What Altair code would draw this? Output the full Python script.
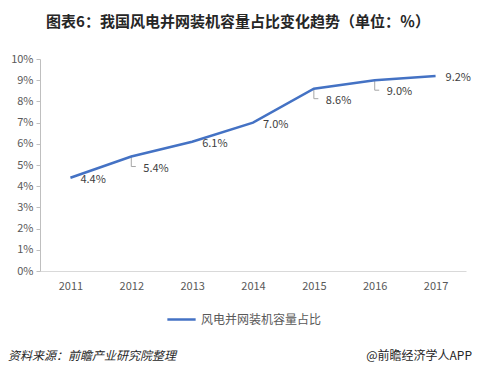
import altair as alt
import pandas as pd

years = ["2011", "2012", "2013", "2014", "2015", "2016", "2017"]
values = [4.4, 5.4, 6.1, 7.0, 8.6, 9.0, 9.2]
labels = ["4.4%", "5.4%", "6.1%", "7.0%", "8.6%", "9.0%", "9.2%"]
leader = [False, True, False, False, True, True, False]
series = "风电并网装机容量占比"

title_text = "图表6：我国风电并网装机容量占比变化趋势（单位：％）"
source_text = "资料来源：前瞻产业研究院整理"
brand_text = "@前瞻经济学人APP"

df = pd.DataFrame({"year": years, "value": values, "label": labels,
                   "leader": leader, "series": [series] * len(years)})

FONT = "Noto Sans CJK SC"
LINE_COLOR = "#4472C4"

x = alt.X("year:N", title=None,
          scale=alt.Scale(paddingInner=0, paddingOuter=0),
          axis=alt.Axis(labelAngle=0, ticks=False, domainColor="#d9d9d9",
                        labelColor="#595959", labelFontSize=11, labelPadding=9,
                        labelFont=FONT))
y = alt.Y("value:Q", title=None,
          scale=alt.Scale(domain=[0, 10]),
          axis=alt.Axis(values=list(range(0, 11)), labelExpr="datum.value + '%'",
                        grid=False, domainColor="#bfbfbf", tickColor="#bfbfbf",
                        tickSize=4, labelColor="#595959", labelFontSize=11,
                        labelPadding=3, labelFont=FONT))

base = alt.Chart(df)

leaders = base.transform_filter("datum.leader").mark_point(
    shape="M0,0 L0,1 L0.45,1", size=400, filled=False,
    stroke="#a6a6a6", strokeWidth=1, opacity=1
).encode(x=x, y=y)

line = base.mark_line(strokeWidth=2.5).encode(
    x=x, y=y,
    color=alt.Color("series:N", scale=alt.Scale(range=[LINE_COLOR]),
                    legend=alt.Legend(title=None, orient="none", legendX=126,
                                      legendY=245, symbolType="stroke",
                                      symbolStrokeWidth=2.5, symbolSize=800,
                                      labelFontSize=12, labelColor="#595959",
                                      labelFont=FONT, labelOffset=4))
)

lab_a = base.transform_filter("!datum.leader").mark_text(
    align="left", baseline="middle", dx=10, dy=2, fontSize=11,
    color="#404040", font=FONT
).encode(x=x, y=y, text="label:N")

lab_b = base.transform_filter("datum.leader").mark_text(
    align="left", baseline="middle", dx=12, dy=12, fontSize=11,
    color="#404040", font=FONT
).encode(x=x, y=y, text="label:N")

title = alt.Chart(pd.DataFrame({"t": [title_text]})).mark_text(
    align="center", baseline="middle", fontSize=15, fontWeight="bold",
    color="#262626", font=FONT
).encode(x=alt.value(198), y=alt.value(-37), text="t:N")

src = alt.Chart(pd.DataFrame({"t": [source_text]})).mark_text(
    align="left", baseline="middle", fontSize=12, fontStyle="italic",
    color="#262626", font=FONT
).encode(x=alt.value(-32), y=alt.value(297), text="t:N")

brand = alt.Chart(pd.DataFrame({"t": [brand_text]})).mark_text(
    align="right", baseline="middle", fontSize=12,
    color="#262626", font=FONT
).encode(x=alt.value(432), y=alt.value(297), text="t:N")

chart = alt.layer(leaders, line, lab_a, lab_b, title, src, brand).properties(
    width=426, height=212,
    autosize=alt.AutoSizeParams(type="none"),
    padding={"left": 32, "top": 51, "right": 7, "bottom": 93},
    background="white"
).configure_view(stroke=None)

chart.save("out.html", embed_options={"renderer": "svg", "actions": False})
